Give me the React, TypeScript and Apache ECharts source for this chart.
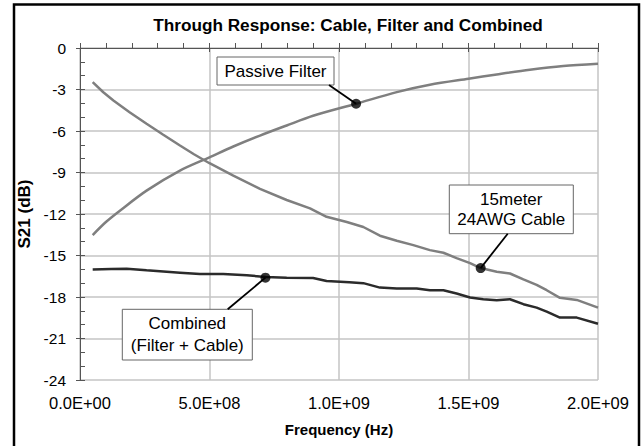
import React, { useEffect, useRef } from "react";
import * as echarts from "echarts";

const TITLE = "Through Response: Cable, Filter and Combined";
const X_NAME = "Frequency (Hz)";
const Y_NAME = "S21 (dB)";
const X_MIN = 0;
const X_MAX = 2e9;
const X_STEP = 5e8;
const Y_MIN = -24;
const Y_MAX = 0;
const Y_STEP = 3;

const filterData: [number, number][] = [
  [4.9e7, -13.52], [1.0e8, -12.58], [1.54e8, -11.76], [2.57e8, -10.31], [3.86e8, -8.86],
  [5.0e8, -7.9], [5.92e8, -7.12], [6.95e8, -6.33], [7.98e8, -5.6], [9.0e8, -4.9],
  [1.066e9, -4.03], [1.223e9, -3.19], [1.351e9, -2.66], [1.5e9, -2.22], [1.609e9, -1.91],
  [1.737e9, -1.57], [1.866e9, -1.3], [2.0e9, -1.13],
];

const cableData: [number, number][] = [
  [4.9e7, -2.46], [9.0e7, -3.2], [1.29e8, -3.79], [1.9e8, -4.62], [2.57e8, -5.48],
  [3.2e8, -6.25], [3.86e8, -7.05], [4.4e8, -7.68], [5.0e8, -8.33],
  [5.92e8, -9.22], [6.95e8, -10.19], [7.98e8, -10.99], [8.88e8, -11.59], [9.52e8, -12.2],
  [1.03e9, -12.58], [1.094e9, -12.94], [1.158e9, -13.57], [1.223e9, -13.93], [1.287e9, -14.25],
  [1.351e9, -14.61], [1.403e9, -14.8], [1.454e9, -15.19], [1.506e9, -15.55], [1.547e9, -15.91],
  [1.609e9, -16.18], [1.66e9, -16.3], [1.712e9, -16.73], [1.763e9, -17.12], [1.802e9, -17.51],
  [1.853e9, -18.06], [1.918e9, -18.21], [2.0e9, -18.77],
];

const combinedData: [number, number][] = [
  [4.9e7, -16.02], [1.2e8, -15.98], [1.8e8, -15.95], [2.57e8, -16.07], [3.86e8, -16.24],
  [4.63e8, -16.34], [5.53e8, -16.34], [6.44e8, -16.43], [7.17e8, -16.55], [7.98e8, -16.6],
  [9.0e8, -16.62], [9.52e8, -16.84], [1.04e9, -16.94], [1.094e9, -17.0], [1.158e9, -17.32],
  [1.223e9, -17.39], [1.3e9, -17.39], [1.351e9, -17.51], [1.403e9, -17.51], [1.454e9, -17.75],
  [1.506e9, -18.04], [1.557e9, -18.16], [1.609e9, -18.23], [1.66e9, -18.16], [1.712e9, -18.52],
  [1.763e9, -18.77], [1.802e9, -19.06], [1.853e9, -19.49], [1.918e9, -19.49], [2.0e9, -19.93],
];

// annotated points: [x, y]
const filterMarker: [number, number] = [1.066e9, -4.03];
const cableMarker: [number, number] = [1.547e9, -15.91];
const combinedMarker: [number, number] = [7.16e8, -16.6];

const filterLabel = "Passive Filter";
const cableLabel = "15meter\n24AWG Cable";
const combinedLabel = "Combined\n(Filter + Cable)";

const FONT = "'Liberation Sans', Arial, Helvetica, sans-serif";

function sci(v: number): string {
  const [m, e] = v.toExponential(1).split("e");
  const sign = e[0] === "-" ? "-" : "+";
  const digits = e.replace(/^[+-]/, "").padStart(2, "0");
  return `${m}E${sign}${digits}`;
}

export default function App() {
  const ref = useRef<HTMLDivElement>(null);
  useEffect(() => {
    if (!ref.current) return;
    const chart = echarts.init(ref.current, null, { renderer: "svg" });
    const gridColor = "#c4c4c4";
    const axisColor = "#555";
    chart.setOption({
      animation: false,
      backgroundColor: "#ffffff",
      title: {
        text: TITLE,
        left: 343,
        top: 11,
        textAlign: "center",
        textStyle: { fontFamily: FONT, fontSize: 17.2, fontWeight: "bold", color: "#000" },
      },
      grid: { left: 80, top: 48, width: 518, height: 332 },
      xAxis: [
        {
          type: "value", min: X_MIN, max: X_MAX, interval: X_STEP,
          name: X_NAME, nameLocation: "middle", nameGap: 42,
          nameTextStyle: { fontFamily: FONT, fontSize: 15, fontWeight: "bold", color: "#000" },
          axisLine: { show: true, lineStyle: { color: axisColor, width: 1 } },
          axisTick: { show: true, inside: false, length: 4, lineStyle: { color: axisColor } },
          axisLabel: { formatter: (v: number) => sci(v), fontFamily: FONT, fontSize: 16.5, color: "#000", margin: 14 },
          splitLine: { show: true, lineStyle: { color: gridColor, width: 1.5 } },
        },
        {
          type: "value", min: X_MIN, max: X_MAX, interval: X_STEP, position: "bottom",
          axisLine: { show: false },
          axisTick: { show: true, inside: true, length: 5, lineStyle: { color: axisColor } },
          minorTick: { show: true, splitNumber: 5, length: 5, lineStyle: { color: axisColor } },
          axisLabel: { show: false },
          splitLine: { show: false },
        },
      ],
      yAxis: [
        {
          type: "value", min: Y_MIN, max: Y_MAX, interval: Y_STEP,
          name: Y_NAME, nameLocation: "middle", nameGap: 43, nameRotate: 90,
          nameTextStyle: { fontFamily: FONT, fontSize: 17, fontWeight: "bold", color: "#000" },
          axisLine: { show: true, lineStyle: { color: axisColor, width: 1 } },
          axisTick: { show: true, inside: false, length: 4, lineStyle: { color: axisColor } },
          axisLabel: { fontFamily: FONT, fontSize: 15.5, color: "#000", margin: 14 },
          splitLine: { show: true, lineStyle: { color: gridColor, width: 1.5 } },
        },
        {
          type: "value", min: Y_MIN, max: Y_MAX, interval: Y_STEP, position: "left",
          axisLine: { show: false },
          axisTick: { show: true, inside: true, length: 5, lineStyle: { color: axisColor } },
          minorTick: { show: true, splitNumber: 3, length: 5, lineStyle: { color: axisColor } },
          axisLabel: { show: false },
          splitLine: { show: false },
        },
      ],
      series: [
        {
          name: "Passive Filter", type: "line", data: filterData, showSymbol: false, smooth: 0.3,
          lineStyle: { color: "#7f7f7f", width: 2.5 }, z: 3,
        },
        {
          name: "15meter 24AWG Cable", type: "line", data: cableData, showSymbol: false,
          lineStyle: { color: "#7f7f7f", width: 2.5 }, z: 3,
        },
        {
          name: "Combined", type: "line", data: combinedData, showSymbol: false,
          lineStyle: { color: "#2b2b2b", width: 2.5 }, z: 3,
        },
        {
          name: "markers", type: "scatter", data: [filterMarker, cableMarker, combinedMarker],
          symbol: "circle", symbolSize: 10, itemStyle: { color: "#000" }, z: 6,
        },
      ],
    });

    const p1 = chart.convertToPixel({ gridIndex: 0 }, filterMarker) as number[];
    const p2 = chart.convertToPixel({ gridIndex: 0 }, cableMarker) as number[];
    const p3 = chart.convertToPixel({ gridIndex: 0 }, combinedMarker) as number[];

    const boxText = { fontFamily: FONT, fontSize: 17, fill: "#000", align: "center", verticalAlign: "middle" };
    const box = (x: number, y: number, w: number, h: number, text: string, lh: number) => ({
      type: "group",
      z: 20,
      children: [
        { type: "rect", shape: { x, y, width: w, height: h }, style: { fill: "#fff", stroke: "#666", lineWidth: 1 } },
        { type: "text", x: x + w / 2, y: y + h / 2, style: { ...boxText, text, lineHeight: lh } },
      ],
    });
    const leader = (x1: number, y1: number, x2: number, y2: number) => ({
      type: "line", z: 19, shape: { x1, y1, x2, y2 }, style: { stroke: "#000", lineWidth: 1.8 },
    });

    chart.setOption({
      graphic: [
        { type: "rect", z: 30, shape: { x: 14, y: 4.5, width: 625, height: 480 }, style: { fill: "none", stroke: "#000", lineWidth: 2.5 } },
        leader(329, 85, p1[0], p1[1]),
        leader(507.7, 233.7, p2[0], p2[1]),
        leader(227.7, 309.3, p3[0], p3[1]),
        box(217, 57, 117, 28, filterLabel, 20),
        box(449.3, 185, 124, 48.7, cableLabel, 20),
        box(122.3, 309.3, 130, 50.7, combinedLabel, 21.6),
      ],
    });
    return () => chart.dispose();
  }, []);
  return (
    <div
      ref={ref}
      style={{ position: "absolute", left: 0, top: 0, width: 642, height: 446, background: "#fff" }}
    />
  );
}
